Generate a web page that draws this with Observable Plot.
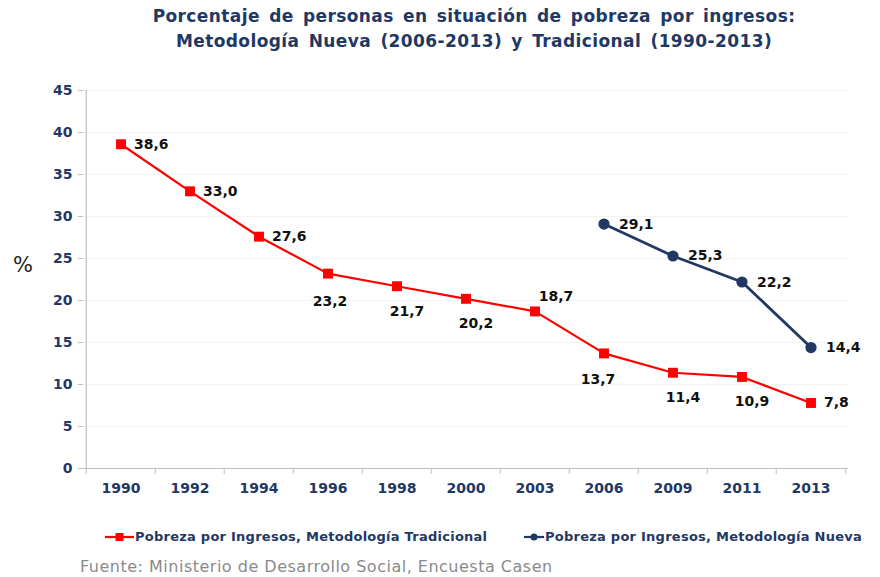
<!DOCTYPE html>
<html>
<head>
<meta charset="utf-8">
<script src="https://cdn.jsdelivr.net/npm/d3@7"></script>
<script src="https://cdn.jsdelivr.net/npm/@observablehq/plot@0.6"></script>
<style>
  html, body { margin: 0; padding: 0; background: #fff; }
  #wrap { position: relative; width: 880px; height: 577px; overflow: hidden; font-family: "DejaVu Sans", Verdana, sans-serif; }
  #title { position: absolute; left: 68px; width: 812px; top: 4px; text-align: center; font-weight: bold; font-size: 17px; line-height: 25px; color: #1f3864; letter-spacing: 0.4px; word-spacing: 3px; white-space: nowrap; }
  #chart { position: absolute; left: 0; top: 0; }
  #pct { position: absolute; left: 13px; top: 253px; font-size: 21px; color: #222; }
  .leg { position: absolute; top: 529px; font-size: 13px; font-weight: bold; color: #1f3864; display: flex; align-items: center; white-space: nowrap; letter-spacing: 0.25px; }
  #source { position: absolute; left: 80px; top: 557px; font-size: 16px; color: #8a8a8a; white-space: nowrap; letter-spacing: 0.5px; }
</style>
</head>
<body>
<div id="wrap">
  <div id="title"></div>
  <div id="chart"></div>
  <div id="pct">%</div>
  <div id="leg1" class="leg" style="left:104px"></div>
  <div id="leg2" class="leg" style="left:523px"></div>
  <div id="source"></div>
</div>
<script>
// ---- data ----
const titleLines = [
  "Porcentaje de personas en situación de pobreza por ingresos:",
  "Metodología Nueva (2006-2013) y Tradicional (1990-2013)"
];
const years = ["1990","1992","1994","1996","1998","2000","2003","2006","2009","2011","2013"];
const tradicional = [38.6, 33.0, 27.6, 23.2, 21.7, 20.2, 18.7, 13.7, 11.4, 10.9, 7.8];
const nuevaYears = ["2006","2009","2011","2013"];
const nueva = [29.1, 25.3, 22.2, 14.4];
const yTicks = [0, 5, 10, 15, 20, 25, 30, 35, 40, 45];
const seriesNames = ["Pobreza por Ingresos, Metodología Tradicional", "Pobreza por Ingresos, Metodología Nueva"];
const sourceText = "Fuente: Ministerio de Desarrollo Social, Encuesta Casen";
// label placement (style)
const tradLabelPos = ["right","right","right","below","belowRight","belowRight","aboveRight","belowLeft","belowRight","belowRight","right"];
const nuevaLabelPos = ["right","right","right","right"];

// ---- style ----
const RED = "#ff0000", NAVY = "#1f3864", AXIS = "#1f3864";
const W = 880, H = 500, ML = 83, MR = 32, MT = 90, MB = 32;
const bw = (W - ML - MR) / years.length;
const offsets = {
  right: {dx: 13, dy: 0, textAnchor: "start"},
  below: {dx: 2, dy: 28, textAnchor: "middle"},
  belowRight: {dx: 10, dy: 25, textAnchor: "middle"},
  belowLeft: {dx: -6, dy: 26, textAnchor: "middle"},
  aboveRight: {dx: 21, dy: -15, textAnchor: "middle"}
};
const fmt = v => v.toFixed(1).replace(".", ",");

const trad = years.map((y, i) => ({year: y, value: tradicional[i], pos: tradLabelPos[i]}));
const nue = nuevaYears.map((y, i) => ({year: y, value: nueva[i], pos: nuevaLabelPos[i]}));

function labelMarks(data, extraDx) {
  return Object.keys(offsets).map(k => {
    const o = offsets[k];
    return Plot.text(data.filter(d => d.pos === k), {
      x: "year", y: "value", text: d => fmt(d.value),
      dx: o.dx + (k === "right" ? extraDx : 0), dy: o.dy, textAnchor: o.textAnchor,
      fontWeight: "bold", fontSize: 14, fill: "#111"
    });
  });
}

const plot = Plot.plot({
  width: W, height: H,
  marginLeft: ML, marginRight: MR, marginTop: MT, marginBottom: MB,
  style: {fontFamily: "'DejaVu Sans', Verdana, sans-serif", background: "transparent", overflow: "visible"},
  x: {type: "band", domain: years, padding: 0, label: null},
  y: {domain: [0, 45], label: null},
  marks: [
    Plot.gridY(yTicks.slice(1), {stroke: "#f3f3f3", strokeOpacity: 1}),
    Plot.axisY(yTicks, {tickSize: 5, tickPadding: 6, stroke: "#bfbfbf", fill: AXIS, fontWeight: "bold", fontSize: 14, label: null}),
    Plot.axisX(years, {tickSize: 0, tickPadding: 15, fill: AXIS, fontWeight: "bold", fontSize: 14, label: null}),
    // axis lines
    Plot.ruleY([0], {stroke: "#bfbfbf", strokeWidth: 1.2}),
    Plot.ruleX([years[0]], {y1: 0, y2: 45, dx: -bw / 2, stroke: "#bfbfbf", strokeWidth: 1.2}),
    // x tick marks between categories
    Plot.ruleX(years, {y1: 0, y2: -0.7, dx: -bw / 2, stroke: "#bfbfbf"}),
    Plot.ruleX([years[years.length - 1]], {y1: 0, y2: -0.7, dx: bw / 2, stroke: "#bfbfbf"}),
    // series
    Plot.line(trad, {x: "year", y: "value", stroke: RED, strokeWidth: 2.2}),
    Plot.dot(trad, {x: "year", y: "value", symbol: "square", r: 5.6, fill: RED, stroke: "none"}),
    Plot.line(nue, {x: "year", y: "value", stroke: NAVY, strokeWidth: 2.8}),
    Plot.dot(nue, {x: "year", y: "value", symbol: "circle", r: 5.6, fill: NAVY, stroke: "none"}),
    ...labelMarks(trad, 0),
    ...labelMarks(nue, 2)
  ]
});
document.getElementById("chart").appendChild(plot);

document.getElementById("title").innerHTML = titleLines.join("<br>");
document.getElementById("source").textContent = sourceText;

function legendSwatch(color, shape) {
  const ns = "http://www.w3.org/2000/svg";
  const svg = document.createElementNS(ns, "svg");
  const w = shape === "square" ? 31 : 22;
  svg.setAttribute("width", w);
  svg.setAttribute("height", 12);
  const line = document.createElementNS(ns, "line");
  line.setAttribute("x1", 1); line.setAttribute("x2", w - 1);
  line.setAttribute("y1", 6); line.setAttribute("y2", 6);
  line.setAttribute("stroke", color); line.setAttribute("stroke-width", 2.2);
  svg.appendChild(line);
  if (shape === "square") {
    const r = document.createElementNS(ns, "rect");
    r.setAttribute("x", w / 2 - 4); r.setAttribute("y", 2); r.setAttribute("width", 8); r.setAttribute("height", 8);
    r.setAttribute("fill", color); svg.appendChild(r);
  } else {
    const c = document.createElementNS(ns, "circle");
    c.setAttribute("cx", w / 2); c.setAttribute("cy", 6); c.setAttribute("r", 3.5);
    c.setAttribute("fill", color); svg.appendChild(c);
  }
  return svg;
}
const l1 = document.getElementById("leg1");
l1.appendChild(legendSwatch(RED, "square"));
l1.appendChild(document.createTextNode(seriesNames[0]));
const l2 = document.getElementById("leg2");
l2.appendChild(legendSwatch(NAVY, "circle"));
l2.appendChild(document.createTextNode(seriesNames[1]));
</script>
</body>
</html>
